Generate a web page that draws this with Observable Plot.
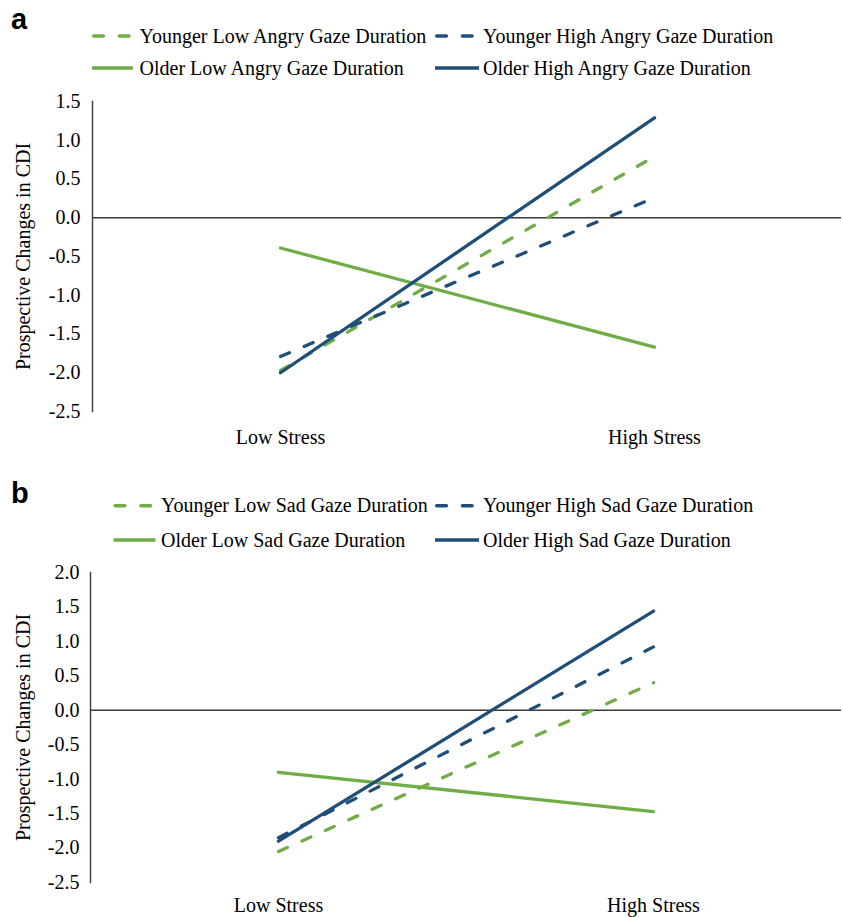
<!DOCTYPE html>
<html><head><meta charset="utf-8">
<script src="https://cdn.jsdelivr.net/npm/d3@7"></script>
<script src="https://cdn.jsdelivr.net/npm/@observablehq/plot@0.6"></script>
<style>
body{margin:0;background:#fff;}
#root{position:relative;width:843px;height:917px;overflow:hidden;}
#root > *{position:absolute;left:0;display:block;}
</style></head><body><div id="root"></div>
<script>
// ---- data ----
const stressLevels = ["Low Stress", "High Stress"];
const yTicksA = [-2.5, -2.0, -1.5, -1.0, -0.5, 0.0, 0.5, 1.0, 1.5];
const yTicksB = [-2.5, -2.0, -1.5, -1.0, -0.5, 0.0, 0.5, 1.0, 1.5, 2.0];
const seriesA = ["Younger Low Angry Gaze Duration", "Younger High Angry Gaze Duration", "Older Low Angry Gaze Duration", "Older High Angry Gaze Duration"];
const seriesB = ["Younger Low Sad Gaze Duration", "Younger High Sad Gaze Duration", "Older Low Sad Gaze Duration", "Older High Sad Gaze Duration"];
const youngerLowAngry = [-1.97, 0.79];
const youngerHighAngry = [-1.79, 0.26];
const olderLowAngry = [-0.39, -1.67];
const olderHighAngry = [-2.00, 1.29];
const youngerLowSad = [-2.05, 0.40];
const youngerHighSad = [-1.85, 0.92];
const olderLowSad = [-0.90, -1.47];
const olderHighSad = [-1.90, 1.44];
const yTitle = "Prospective Changes in CDI";

// ---- styles ----
const seriesColors = ["#70AD47", "#1F4E79", "#70AD47", "#1F4E79"];
const seriesDash = ["9.7,16", "9.7,16", null, null];
const serif = "'Liberation Serif','Times New Roman',serif";

function toRows(names, valueSets) {
  const rows = [];
  names.forEach((n, i) => stressLevels.forEach((s, j) => rows.push({series: n, stress: s, value: valueSets[i][j]})));
  return rows;
}
const rowsA = toRows(seriesA, [youngerLowAngry, youngerHighAngry, olderLowAngry, olderHighAngry]);
const rowsB = toRows(seriesB, [youngerLowSad, youngerHighSad, olderLowSad, olderHighSad]);

function panel({rows, names, yTicks, yDomain, marginLeft, marginTop, marginBottom, height, xPad, yPad}) {
  return Plot.plot({
    width: 843, height, marginLeft, marginRight: 2, marginTop, marginBottom,
    style: {fontFamily: serif, fontSize: "20px", color: "#000", background: "transparent", overflow: "visible"},
    x: {type: "point", domain: stressLevels, padding: 0.5},
    y: {domain: yDomain},
    marks: [
      Plot.frame({anchor: "left", stroke: "#3a3a3a", strokeWidth: 1.4}),
      Plot.ruleY([0], {stroke: "#3a3a3a", strokeWidth: 1.4}),
      Plot.axisY({ticks: yTicks, tickSize: 0, tickPadding: yPad, tickFormat: d => d.toFixed(1), label: null}),
      Plot.axisX({tickSize: 0, tickPadding: xPad, label: null}),
      ...names.map((n, i) => Plot.line(rows.filter(r => r.series === n), {
        x: "stress", y: "value", stroke: seriesColors[i], strokeWidth: 3.3,
        strokeDasharray: seriesDash[i], strokeLinecap: "round"
      })),
      Plot.text([yTitle], {frameAnchor: "left", dx: 23 - marginLeft, rotate: -90, textAnchor: "middle", fontSize: 20, fill: "#000"})
    ]
  });
}

function header({height, letter, letterBaseline, names, rowsY, col1x1, col1x2, col1tx}) {
  const svg = d3.create("svg").attr("width", 843).attr("height", height);
  svg.append("text").attr("x", 11).attr("y", letterBaseline).text(letter)
    .attr("font-family", "'Liberation Sans',Arial,sans-serif").attr("font-weight", "bold").attr("font-size", 29);
  const items = [
    {i: 0, x1: col1x1, x2: col1x2, tx: col1tx, y: rowsY[0]},
    {i: 1, x1: 435, x2: 477, tx: 483, y: rowsY[0]},
    {i: 2, x1: col1x1, x2: col1x2 + 1, tx: col1tx, y: rowsY[1]},
    {i: 3, x1: 435, x2: 479, tx: 483, y: rowsY[1]}
  ];
  for (const it of items) {
    const dashed = seriesDash[it.i] != null;
    svg.append("line").attr("x1", it.x1 + (dashed ? 1.7 : 0)).attr("x2", it.x2).attr("y1", it.y).attr("y2", it.y)
      .attr("stroke", seriesColors[it.i]).attr("stroke-width", 3.5)
      .attr("stroke-linecap", dashed ? "round" : "butt")
      .attr("stroke-dasharray", dashed ? seriesDash[it.i] : null);
    svg.append("text").attr("x", it.tx).attr("y", it.y).attr("dy", "0.33em").text(names[it.i])
      .attr("font-family", serif).attr("font-size", 20).attr("fill", "#000");
  }
  return svg.node();
}

const root = document.getElementById("root");
const hA = header({height: 90, letter: "a", letterBaseline: 29, names: seriesA, rowsY: [36, 68], col1x1: 92, col1x2: 132, col1tx: 139.5});
hA.style.top = "0px"; root.appendChild(hA);
const pA = panel({rows: rowsA, names: seriesA, yTicks: yTicksA, yDomain: [-2.5, 1.5], marginLeft: 92, marginTop: 11, marginBottom: 39, height: 360, xPad: 18, yPad: 12});
pA.style.top = "90px"; root.appendChild(pA);
const hB = header({height: 110, letter: "b", letterBaseline: 53, names: seriesB, rowsY: [55.7, 90], col1x1: 113.5, col1x2: 154.5, col1tx: 161});
hB.style.top = "450px"; root.appendChild(hB);
const pB = panel({rows: rowsB, names: seriesB, yTicks: yTicksB, yDomain: [-2.5, 2.0], marginLeft: 90, marginTop: 12, marginBottom: 35, height: 357, xPad: 15, yPad: 11});
pB.style.top = "560px"; root.appendChild(pB);
</script></body></html>
